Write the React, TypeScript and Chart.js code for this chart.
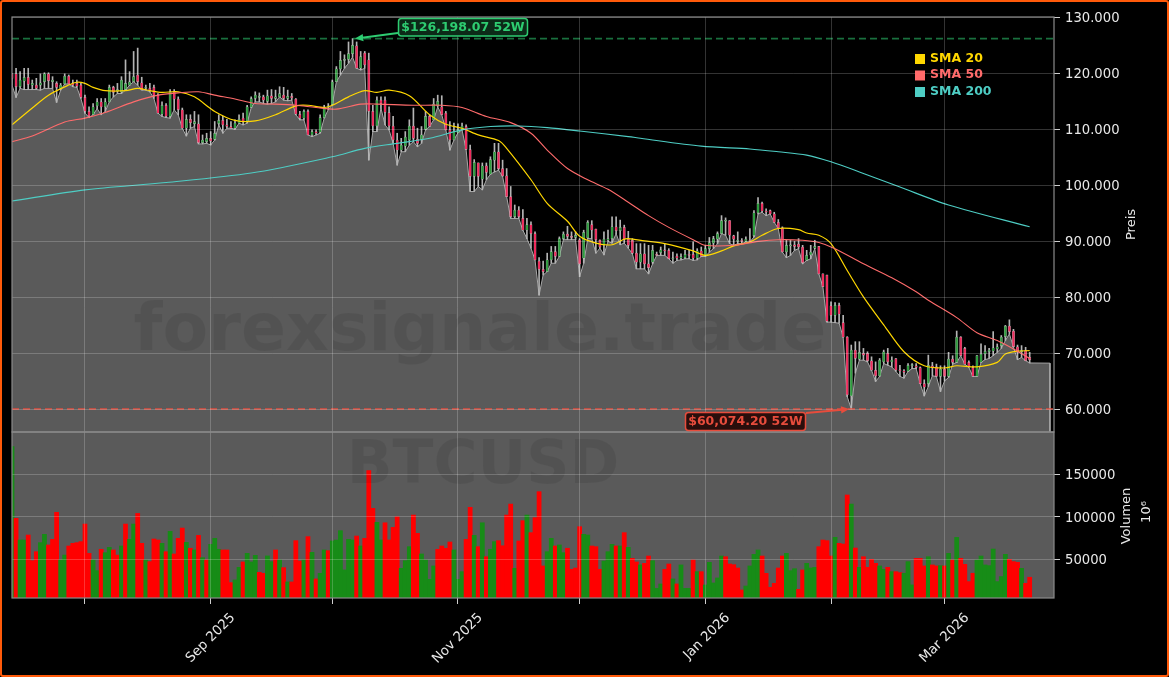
import { useEffect, useRef } from "react";
import { Chart, registerables } from "chart.js";

Chart.register(...registerables);

// day number 0 = 14 Jul 2025, prices in thousand USD, volume in thousands
const monthTicks = [18, 49, 79, 110, 140, 171, 202, 230];
const monthLabels = ["", "Sep 2025", "", "Nov 2025", "", "Jan 2026", "", "Mar 2026"];
const priceTicks = [60, 70, 80, 90, 100, 110, 120, 130];
const volumeTicks = [50, 100, 150];

const opens = [
  119.9,119.9,117.6,118.6,119.3,117.9,117.9,117.9,118.5,119.9,
  118.5,118.2,117.3,118.1,119.5,118.3,118.2,117.9,115.7,113.2,
  112.6,114.2,114.9,114,114.9,117.5,116.8,116.7,117.1,117.9,
  118.5,119.7,118.3,117.3,117.3,117.5,116.1,112.7,114.3,112.3,
  116.7,115.4,113.5,110.2,111.8,111,111,107.6,107.8,108.4,
  108.2,111,111.6,110.8,110.5,110.2,111.1,112,111.5,113.9,
  115.5,115.7,115.8,115,116,115.5,115.8,116.1,115.5,115.9,
  115.4,112.7,112,113.2,109,109.6,109.5,112.1,114,114.4,
  118.5,120.8,122.3,122.5,123.5,124.9,120.9,123.6,122.4,113.2,
  110.6,115.2,115.2,113,110.6,108.1,106.3,107,108.1,110.6,
  108.2,108.2,110,112.3,111.7,114.2,114,112.9,109.9,108.1,
  109.4,109.9,110.5,106.4,101.6,104,101.1,103.5,102,104.5,
  106,103,101.7,98,94.4,95.6,94.1,92,93,91.4,
  86.5,85,84.6,86.7,88.2,87.3,90.5,91.3,90.9,90.7,
  90.3,87,90.6,93,92.2,90.2,89.4,90.2,90.5,92.6,
  91.9,92.5,90.4,90.2,87.9,86.3,87.8,86,86.3,87.7,
  88,88.4,88.4,86.9,87.4,87,87.1,87.6,87.7,87,
  88.3,87.3,88.7,89.7,90.4,91.4,93.6,93.7,91,90,
  90.2,90,90.1,91,95.1,96.8,95.4,95.5,94.9,93.4,
  92.4,88.1,89.2,89.4,89.5,89,86.6,87.6,88.8,89.1,
  84.2,84,78.5,76.8,78.6,75.5,72.9,62.4,70.6,69,
  70,70,68.7,67,66,68.5,70,68.5,69.1,67,
  66.9,66.8,67.8,67.8,67.5,64.6,64.6,67.8,67.6,65.9,
  67.2,65.9,69,68.4,72.9,70.9,68.4,67.5,65.9,68.4,
  69.9,70.3,70.4,70.8,71.4,73,74.9,74,71.2,70.3,70.5,69.3,
];
const highs = [
  120,120.9,120.3,120.9,120.9,118.8,119.1,119.9,120.1,120.1,
  119.4,118.5,118.2,119.9,119.7,118.8,118.8,118.2,116.1,114,
  114.6,115.5,115.5,115.5,117.9,117.7,118.2,119.4,122.4,120.3,
  123.9,124.5,119.3,117.9,118.2,117.9,116.4,114.9,114.6,117.1,
  117.1,115.8,113.8,112.6,112.6,113.2,112.6,109,109.3,109.6,
  111.4,112.6,112.3,111.8,111.4,111.7,112.6,112.9,114.3,115.8,
  116.7,116.5,116.1,117,117.1,117,117.6,117.5,117,116.4,
  115.5,113.2,113.5,113.5,109.9,109.9,112.6,114.3,114.6,118.8,
  121.2,123.9,123.3,125.6,126.2,125.6,123.9,123.9,123.6,114.3,
  115.8,115.8,115.8,114,112.3,109.3,108.4,109.6,111.7,113.8,
  110.2,110.5,113.2,112.6,115.5,116.1,116,113.2,111.4,111.1,
  111,111.1,110.8,107.2,104.6,104,104,104,105.1,107.5,
  107.5,104.5,103,99.8,96.5,96.2,95.7,94.1,93.5,91.7,
  87.1,86.5,87.9,89.1,89.1,90.8,91.7,92.7,91.7,91.7,
  90.5,92,93.7,93.7,92.2,90.3,91.7,92,94.4,94.4,
  93.8,92.9,91.8,90.5,89.6,89.6,89.6,89.3,89.3,88.1,
  89,89.6,88.7,88.1,87.8,87.8,88.4,88.4,89.9,88.7,
  89,89.3,90.7,90.9,91.7,94.6,94.2,93.7,91.1,91.7,
  90.5,90.8,92.3,95.5,97.8,97,95.8,95.6,95.2,93.9,
  92.6,90.2,90.2,90,90.5,89.3,88.4,89.3,90.2,89.1,
  84.2,84,79.2,79.1,79,76.8,73,71.5,72.1,72.1,
  70.9,70.3,69.4,68.5,69.1,70.6,70.9,69.4,69.1,67.9,
  67.1,68.2,68.2,68.2,67.6,65.3,69.7,68.4,68.1,67.8,
  67.8,70.2,69.6,74,73,71.1,68.7,67.8,69.6,71.7,
  71.4,70.9,73.9,71.7,73.2,75,76,74.3,71.5,71.4,71.1,70.2,
];
const lows = [
  117.9,115.7,117.3,117.1,117.1,117.1,117.1,117,117.3,117.3,
  117.3,114.8,117,118.1,118.1,117.6,117.5,115.5,112.9,112.1,
  112.6,113.7,112.6,113.2,114.9,115.8,116.4,116.4,117,117.9,
  118.5,117.9,117,117,116.7,115.5,112.9,112.3,112.1,112,
  113.5,112.6,110.2,108.8,110.2,110.5,107.4,107.4,107.5,107.2,
  108.1,110.8,109.3,110.2,110.2,110,111.1,110.8,111.1,113.9,
  114.9,114.9,114.6,114.5,114.6,114.9,115.8,115.2,115.1,115.2,
  112.6,111.7,111.7,109,108.7,109,109.3,112,113.5,114.4,
  118.5,119.7,120.9,121.8,122.9,120.9,120.6,120.9,104.5,109.6,
  109.6,113.8,110.8,109.9,107.5,103.6,106,106,107.2,107.8,
  106.9,107.5,109.9,110.5,111.7,114,112.6,109.9,106.3,108.1,
  109.4,109.9,106.4,98.9,98.9,99.8,99.2,101,102,102.4,
  102.7,101.6,98,94.1,94.1,94.1,92,90.5,88.8,86.7,
  80.4,84,84.6,86.1,86.1,87.3,90.3,90.3,90.3,90.3,
  83.7,86.1,90.5,90.5,87.9,88.8,87.6,90,89.7,91.4,
  89.4,89.7,88.8,87.8,85.1,85.1,85.1,84.2,86,87.5,
  87.5,87.5,86.9,86.1,86.6,86.7,86.9,86.9,86.6,86.7,
  87.3,87.3,88.1,88.7,89.6,91.4,91.1,89.6,89.3,89.6,
  89.6,89.9,89.9,90.8,94.9,95.2,94.6,94.9,93.4,92.3,
  88.1,87.1,87.5,88.4,88.7,86,86.6,86.9,88.7,84.2,
  81.9,75.6,75.6,75.5,75.4,72.9,62.3,60.07,66.5,68.8,
  68.8,68.5,67,65,65.9,68.2,67.9,67.6,66.8,65.9,
  65.6,66.8,67.3,67.3,64.6,62.4,64.1,66,65.9,63.2,
  65.1,65.7,68.1,68.4,69.6,68.1,67.5,65.9,65.9,68.4,
  68.9,69.1,69.6,70.2,70.9,72.3,73.5,71.1,68.9,69.3,68.7,68.3,
];
const closes = [
  119.1,117.6,118.8,119.3,118,118.2,117.3,118.3,119.9,118.7,
  118.8,117.5,117.9,119.5,118.1,117.9,117.7,115.7,113.2,112.4,
  114,114.9,114,114.9,117.5,116.6,117.1,118.8,118.2,118.5,
  119.4,118.5,117.1,117.5,117,116.1,112.9,114.3,112.3,116.7,
  115.4,113.5,110.2,111.8,111.2,111.4,107.6,108.1,108.4,107.9,
  109.3,111.6,110.8,110.5,110.2,111.1,111.8,111.4,114,115.5,
  116.1,115.9,115.2,116,115.5,115.8,116.4,115.5,115.9,115.6,
  112.7,112,113.2,109,109.6,109.3,112.1,114,114.1,118.5,
  120.8,122.3,122.5,123.5,125,120.9,123,121.5,113.2,110.6,
  115.2,114.6,113,110.6,108.1,106.3,107.2,108.6,110.6,108.4,
  107.5,109,112.3,110.5,114.5,115,112.6,109.9,108.1,109.6,
  110,110.6,106.4,101.6,104.1,101.6,103.5,102.3,104.6,106,
  103,101.7,98,94.4,95.6,94.4,92,93,91.4,86.7,
  85,84.6,86.7,88.2,87.3,90.5,91.3,90.9,90.7,91.1,
  86,91.6,93.4,92,90.3,89,90.4,90.5,92.6,91.9,
  92.5,90.4,89.3,87.9,86.3,87.8,86,85.3,88.4,87.5,
  88.5,88.3,86.9,87,87,87.3,87.7,87.5,87,88.3,
  87.3,88.7,89.8,90.5,91.4,93.7,93.8,91.1,90.4,90.2,
  90,90.4,90,95.1,96.8,95.4,95.2,94.9,93.4,92.4,
  88.1,89.3,89.4,89.1,89,86.2,87.5,88.1,89.1,84.2,
  81.9,75.7,76.8,78.6,77,72.9,62.6,70.6,69.1,70.2,
  69.7,68.7,67,66,68.8,70.3,68.5,68.8,67,66.9,
  66.6,67.9,68,67.5,64.6,64,67.9,67.5,65.9,67.2,
  65.9,69,68.4,72.9,69.6,68.1,67.7,65.9,69.6,69.9,
  70.4,70.6,71,71.2,72.9,74.9,73.9,71.2,70.2,70.5,68.7,68.9,
];
const volumes = [
  182.5,98.2,72.7,72.7,78.6,48.4,59,69.6,79.4,66.9,
  73.5,105.3,49.2,55,65.7,68.8,69.6,70.8,91.5,57,
  49.2,36.7,61.8,57.8,64.1,61,55,65.7,91.5,73.5,
  91.5,104,68.8,49.2,47.3,73.9,72.7,68.8,59,82.9,
  56.3,74.7,86.8,70,63,61,78.2,52,49.2,67.6,
  74.7,61.8,61,61,22.6,25.7,40.6,46.9,57,46.9,
  54.7,34.7,33.5,54,47.3,61,49.2,40.2,23.4,23.4,
  72,48,49.2,76.7,58.2,26.9,33.5,61,60.2,71.6,
  72.7,83.7,37.5,73.5,72.7,77.4,65.7,74.7,154.3,110,
  93.5,72.7,93,72.7,87.6,100,39.4,48.4,64.9,102.1,
  80.6,56.3,49.2,26.5,42.2,61.8,65.7,63,70.4,61,
  26.5,35.5,73.5,111.2,78.2,64.9,93,53.1,61.8,70.8,
  72,66,102.1,115,39.4,71.6,95.5,102.1,81.4,99,
  129.6,42.2,59,74.7,65.7,66.9,57.8,63,38.2,39.8,
  88.4,79.4,78.6,65.7,64.9,38.2,48,59,67.6,65.7,
  65.7,81.4,64.1,51.2,46.9,43.4,45.3,53.9,48.4,15.9,
  21,38.2,44.5,26.9,21,43.4,15.9,15.9,49.2,35.5,
  35.5,19.8,46.5,22.2,28.1,53.9,53.1,44.5,43.7,39.8,
  13.9,18.6,42.2,55.9,61,53.9,33.5,17.1,21.8,39.8,
  53.9,57,36.7,39,14.7,37.5,45.3,39.8,40.6,64.9,
  72.7,72,53.9,75.9,68.8,68,125.7,115,63.3,40.6,
  53.1,40.6,50,45.3,42.2,38.2,40.6,35.5,35.5,34.3,
  33.6,47.3,19.9,51.2,51.2,42.2,53.1,43.4,42.2,42.6,
  42.2,57,49.2,75.8,51.2,44.1,23.8,33.6,49.2,53.9,
  43.4,42.6,62.1,23.8,29.7,55.9,50,47.3,46.5,39.4,21.8,28.9,
];
// 1 = green volume bar, 0 = red
const volumeUp = [
  1,0,1,1,0,0,0,1,1,0,
  0,0,1,1,0,0,0,0,0,0,
  1,1,0,1,1,0,0,1,0,1,
  1,0,0,1,0,0,0,1,0,1,
  0,0,0,1,0,1,0,1,0,1,
  1,1,0,0,0,1,1,0,1,1,
  1,0,0,1,1,0,1,0,1,0,
  0,0,1,0,1,0,1,1,0,1,
  1,1,1,1,1,0,1,0,0,0,
  1,1,0,0,0,0,1,1,1,0,
  0,1,1,1,1,0,0,0,0,1,
  1,1,0,0,1,0,1,0,1,1,
  0,0,0,0,1,0,0,1,0,0,
  0,0,1,1,0,1,1,0,0,0,
  0,1,1,0,0,0,1,1,1,0,
  1,0,1,0,0,1,0,0,1,1,
  1,0,0,1,0,1,1,1,0,1,
  0,1,1,1,1,1,0,0,0,0,
  0,1,1,1,1,0,0,0,0,0,
  0,1,1,1,0,0,1,1,1,0,
  0,0,0,1,0,0,0,1,0,1,
  0,0,0,0,1,1,0,1,0,0,
  1,1,1,0,0,0,1,0,0,1,
  0,1,0,1,0,0,0,0,1,1,
  1,1,1,1,1,1,0,0,0,1,0,0,
];

const sma20Days = [0,5,9,14,16,18,20,23,28,31,34,37,41,45,50,55,60,65,70,73,77,79,83,87,90,93,98,103,107,111,115,120,122,128,132,137,140,144,148,151,152,156,161,168,171,175,178,182,185,189,194,196,199,202,206,210,215,220,225,230,233,238,243,245,248,251];
const sma20 = [110.8,113.8,116.1,117.9,118.4,118.2,117.5,116.9,116.9,117.3,116.9,116.6,116.7,115.8,113.2,111.6,111.5,112.6,114.2,114.3,113.9,114.3,115.8,116.9,116.6,117,116,112.6,110.9,110.2,109,108,106.6,101,96.8,93.6,90.9,89.7,89.4,90.4,90.5,90.1,89.6,88.3,87.5,88.3,89.2,89.9,91.1,92.3,92.1,91.5,91.1,89.6,84.8,80.1,75.1,70.3,67.8,67.4,67.8,67.6,68.4,69.9,70.4,70.5];
const sma50Days = [0,5,13,18,23,30,36,41,46,50,55,60,65,70,75,80,86,90,99,106,111,117,123,128,132,137,142,147,152,157,162,168,171,178,184,189,195,199,203,210,217,223,226,233,238,243,247,251];
const sma50 = [107.8,108.8,111.3,112,113,114.9,116.1,116.5,116.7,116.1,115.4,114.6,114.5,114.3,113.9,113.6,114.5,114.5,114.3,114.3,113.9,112.3,111.2,109.3,106.3,103,101,99.3,97,94.6,92.5,90.3,89.3,89.3,90,90.3,90.2,89.8,88.7,86,83.5,81,79.5,76.4,73.7,72.3,70.8,69.1];
const sma200Days = [0,18,38,59,79,87,95,103,111,118,125,132,140,152,155,170,182,189,196,202,209,219,231,251];
const sma200 = [97.2,99.2,100.5,102.2,105.1,106.6,107.5,108.4,109.9,110.5,110.6,110.3,109.7,108.7,108.4,107,106.5,106,105.4,104.2,102.4,99.7,96.5,92.6];

const PRICE_MIN = 55.98;
const PRICE_MAX = 130.05;
const VOL_MIN = 4.5;
const VOL_MAX = 199.8;

const lowAreaTailDays = [256, 256];
const lowAreaTail = [68.27, PRICE_MIN];
const yearHigh = 126.19807;
const yearLow = 60.0742;
const levelDays = [0, 257];

const FONT = '"DejaVu Sans"';
const GREY = "#5a5a5a";
const FRAME = "#8a8a8a";
const TEXT = "#e8e8e8";
const UP = "#2e9e3e";
const DOWN = "#ef2b5c";
const VOL_UP = "#178c17";
const VOL_DOWN = "#ff0000";
const SMA20_COLOR = "#FFD700";
const SMA50_COLOR = "#FF6B6B";
const SMA200_COLOR = "#4ECDC4";

const legendItems = [
  { text: "SMA 20", color: SMA20_COLOR },
  { text: "SMA 50", color: SMA50_COLOR },
  { text: "SMA 200", color: SMA200_COLOR },
];

const zip = (xs: number[], ys: number[]) => xs.map((x, i) => ({ x, y: ys[i] }));
const byDay = (ys: number[]) => ys.map((y, x) => ({ x, y }));

function drawCallout(
  ctx: CanvasRenderingContext2D,
  text: string,
  box: { x: number; y: number; w: number; h: number },
  from: { x: number; y: number },
  tip: { x: number; y: number },
  color: string,
  fill: string,
) {
  const angle = Math.atan2(tip.y - from.y, tip.x - from.x);
  ctx.save();
  ctx.strokeStyle = color;
  ctx.fillStyle = color;
  ctx.lineWidth = 2;
  ctx.beginPath();
  ctx.moveTo(from.x, from.y);
  ctx.lineTo(tip.x - 7 * Math.cos(angle), tip.y - 7 * Math.sin(angle));
  ctx.stroke();
  ctx.beginPath();
  ctx.moveTo(tip.x, tip.y);
  ctx.lineTo(tip.x - 9 * Math.cos(angle - 0.42), tip.y - 9 * Math.sin(angle - 0.42));
  ctx.lineTo(tip.x - 9 * Math.cos(angle + 0.42), tip.y - 9 * Math.sin(angle + 0.42));
  ctx.closePath();
  ctx.fill();
  ctx.beginPath();
  ctx.roundRect(box.x, box.y, box.w, box.h, 3);
  ctx.fillStyle = fill;
  ctx.fill();
  ctx.lineWidth = 1.5;
  ctx.stroke();
  ctx.fillStyle = color;
  ctx.font = `bold 12.5px ${FONT}`;
  ctx.textAlign = "center";
  ctx.textBaseline = "middle";
  ctx.fillText(text, box.x + box.w / 2, box.y + box.h / 2 + 0.5);
  ctx.restore();
}

const panelPlugin = {
  id: "panels",
  beforeDatasetsDraw(chart: any) {
    const { ctx, chartArea, scales } = chart;
    ctx.save();
    ctx.fillStyle = GREY;
    ctx.fillRect(chartArea.left, scales.yVol.top, chartArea.width, scales.yVol.height);
    ctx.restore();
  },
  afterDatasetsDraw(chart: any) {
    const { ctx, chartArea, scales } = chart;
    const { yVol } = scales;
    const mid = (chartArea.left + chartArea.right) / 2;
    ctx.save();
    ctx.fillStyle = "rgba(0,0,0,0.08)";
    ctx.textAlign = "center";
    ctx.textBaseline = "middle";
    ctx.font = `bold 66.5px ${FONT}`;
    ctx.fillText("forexsignale.trade", mid - 53, chartArea.top + 316);
    ctx.font = `bold 60px ${FONT}`;
    ctx.fillText("BTCUSD", mid - 50, yVol.top + 35);
    ctx.restore();
  },
  afterDraw(chart: any) {
    const { ctx, chartArea, scales } = chart;
    const { x, y, yVol } = scales;
    ctx.save();
    ctx.strokeStyle = FRAME;
    ctx.lineWidth = 1.2;
    ctx.strokeRect(chartArea.left, y.top, chartArea.width, y.height);
    ctx.strokeRect(chartArea.left, yVol.top, chartArea.width, yVol.height);

    // legend
    ctx.font = `bold 12.5px ${FONT}`;
    ctx.textAlign = "left";
    ctx.textBaseline = "middle";
    legendItems.forEach((item, i) => {
      const top = 54 + i * 16.5;
      ctx.fillStyle = item.color;
      ctx.fillRect(915, top, 10, 10);
      ctx.fillText(item.text, 930, top + 4.5);
    });

    // rotated axis titles, reading upwards
    ctx.fillStyle = TEXT;
    ctx.font = `13px ${FONT}`;
    ctx.textAlign = "center";
    const upright = (text: string, px: number, py: number) => {
      ctx.save();
      ctx.translate(px, py);
      ctx.rotate(-Math.PI / 2);
      ctx.fillText(text, 0, 0);
      ctx.restore();
    };
    upright("Preis", 1132, (y.top + y.bottom) / 2);
    upright("Volumen", 1127, (yVol.top + yVol.bottom) / 2 + 1);
    upright("10⁶", 1147, (yVol.top + yVol.bottom) / 2 - 3);
    ctx.restore();

    drawCallout(
      ctx,
      "$126,198.07 52W",
      { x: 398.5, y: 18.5, w: 129, h: 17.5 },
      { x: 398, y: 33 },
      { x: x.getPixelForValue(84.6), y: y.getPixelForValue(yearHigh) },
      "#2ecc71",
      "#0c2a18",
    );
    drawCallout(
      ctx,
      "$60,074.20 52W",
      { x: 685.5, y: 412.5, w: 120, h: 18 },
      { x: 806, y: 413 },
      { x: x.getPixelForValue(206.5), y: y.getPixelForValue(yearLow) },
      "#e74c3c",
      "#2a0e0c",
    );
  },
};

export default function App() {
  const canvasRef = useRef<HTMLCanvasElement | null>(null);

  useEffect(() => {
    document.body.style.margin = "0";
    document.body.style.background = "#000";
    const canvas = canvasRef.current;
    if (!canvas) return;

    const gridColor = "rgba(255,255,255,0.2)";
    const sideAxis = {
      type: "linear",
      position: "right",
      stack: "panels",
      afterFit: (axis: any) => {
        axis.width = 115;
      },
      grid: { color: gridColor, z: 1, tickColor: "#cfcfcf", tickLength: 6, tickWidth: 1 },
      border: { display: false },
    };

    const chart = new Chart(canvas, {
      type: "bar",
      data: {
        datasets: [
          {
            type: "line",
            data: zip(levelDays, [yearHigh, yearHigh]),
            yAxisID: "y",
            order: 1,
            borderColor: "rgba(46,204,113,0.55)",
            borderWidth: 1.8,
            borderDash: [7, 4],
            pointRadius: 0,
          },
          {
            type: "line",
            data: zip(levelDays, [yearLow, yearLow]),
            yAxisID: "y",
            order: 1,
            borderColor: "rgba(231,76,60,0.7)",
            borderWidth: 2,
            borderDash: [7, 4],
            pointRadius: 0,
          },
          {
            type: "line",
            label: "SMA 200",
            data: zip(sma200Days, sma200),
            yAxisID: "y",
            order: 2,
            borderColor: SMA200_COLOR,
            borderWidth: 1.1,
            pointRadius: 0,
            tension: 0.3,
          },
          {
            type: "line",
            label: "SMA 50",
            data: zip(sma50Days, sma50),
            yAxisID: "y",
            order: 2,
            borderColor: SMA50_COLOR,
            borderWidth: 1.1,
            pointRadius: 0,
            tension: 0.3,
          },
          {
            type: "line",
            label: "SMA 20",
            data: zip(sma20Days, sma20),
            yAxisID: "y",
            order: 2,
            borderColor: SMA20_COLOR,
            borderWidth: 1.2,
            pointRadius: 0,
            tension: 0.3,
          },
          {
            type: "bar",
            label: "Body",
            data: opens.map((o, i) => ({ x: i, y: [o, closes[i]] })),
            yAxisID: "y",
            order: 3,
            grouped: false,
            barThickness: 2.4,
            minBarLength: 1,
            backgroundColor: opens.map((o, i) => (closes[i] >= o ? UP : DOWN)),
            borderColor: "rgba(225,225,225,0.55)",
            borderWidth: 0.5,
            borderSkipped: false,
          },
          {
            type: "bar",
            label: "Wick",
            data: lows.map((l, i) => ({ x: i, y: [l, highs[i]] })),
            yAxisID: "y",
            order: 4,
            grouped: false,
            barThickness: 1,
            backgroundColor: "#b4b4b4",
            borderWidth: 0,
          },
          {
            type: "line",
            label: "Low",
            data: [...byDay(lows), ...zip(lowAreaTailDays, lowAreaTail)],
            yAxisID: "y",
            order: 5,
            borderColor: "#a8a8a8",
            borderWidth: 1,
            backgroundColor: GREY,
            fill: "origin",
            pointRadius: 0,
            tension: 0,
          },
          {
            type: "bar",
            label: "Volumen",
            data: byDay(volumes),
            yAxisID: "yVol",
            order: 6,
            grouped: false,
            barThickness: 4.1,
            backgroundColor: volumeUp.map((u) => (u ? VOL_UP : VOL_DOWN)),
            borderWidth: 0,
          },
        ],
      } as any,
      options: {
        responsive: false,
        animation: false,
        events: [],
        color: TEXT,
        layout: { padding: { left: 12, top: 17, right: 0, bottom: 0 } },
        font: { family: FONT },
        plugins: { legend: { display: false }, tooltip: { enabled: false } },
        scales: {
          x: {
            type: "linear",
            min: 0,
            max: 257,
            offset: false,
            afterBuildTicks: (axis: any) => {
              axis.ticks = monthTicks.map((value) => ({ value }));
            },
            afterFit: (axis: any) => {
              axis.height = 79;
            },
            grid: {
              color: gridColor,
              z: 1,
              offset: false,
              tickColor: "#cfcfcf",
              tickLength: 6,
              tickWidth: 1,
            },
            border: { display: false },
            ticks: {
              autoSkip: false,
              minRotation: 45,
              maxRotation: 45,
              labelOffset: 22.5,
              padding: 6,
              color: TEXT,
              font: { family: FONT, size: 13.4 },
              callback: (value: any) => monthLabels[monthTicks.indexOf(Number(value))] ?? "",
            },
          },
          y: {
            ...sideAxis,
            stackWeight: 415,
            weight: 1,
            min: PRICE_MIN,
            max: PRICE_MAX,
            afterBuildTicks: (axis: any) => {
              axis.ticks = priceTicks.map((value) => ({ value }));
            },
            ticks: {
              padding: 5,
              labelOffset: 1.5,
              color: TEXT,
              font: { family: FONT, size: 13.2 },
              callback: (value: any) => `${value}.000`,
            },
          },
          yVol: {
            ...sideAxis,
            stackWeight: 166,
            weight: 2,
            min: VOL_MIN,
            max: VOL_MAX,
            afterBuildTicks: (axis: any) => {
              axis.ticks = volumeTicks.map((value) => ({ value }));
            },
            ticks: {
              padding: 5,
              labelOffset: 1.5,
              color: TEXT,
              font: { family: FONT, size: 13.2 },
              callback: (value: any) => `${value}000`,
            },
          },
        },
      } as any,
      plugins: [panelPlugin],
    });

    return () => chart.destroy();
  }, []);

  return (
    <div style={{ position: "relative", width: 1169, height: 677, background: "#000", overflow: "hidden" }}>
      <canvas ref={canvasRef} width={1169} height={677} style={{ display: "block" }} />
      <div
        style={{
          position: "absolute",
          inset: 0,
          boxSizing: "border-box",
          border: "2px solid #ff5a0a",
          borderRadius: 3,
          pointerEvents: "none",
        }}
      />
    </div>
  );
}
